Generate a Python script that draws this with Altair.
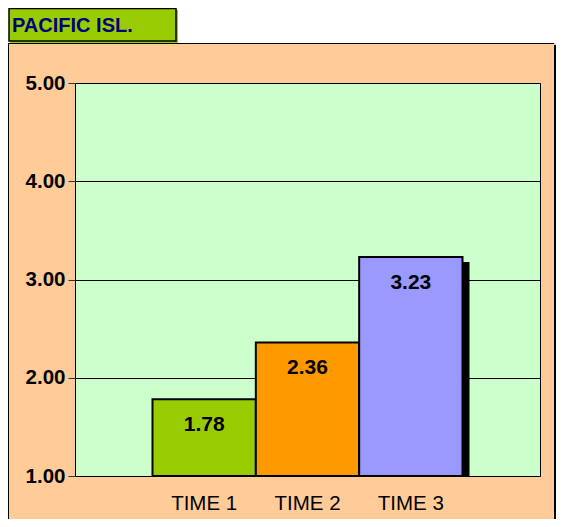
import altair as alt
import pandas as pd

categories = ["TIME 1", "TIME 2", "TIME 3"]
values = [1.78, 2.36, 3.23]
colors = ["#99CC00", "#FF9900", "#9999FF"]
y_ticks = [1, 2, 3, 4, 5]
title_text = "PACIFIC ISL."

df = pd.DataFrame({"cat": categories, "val": values, "col": colors})
one = alt.Data(values=[{"k": 1}])

W, H = 465, 393
FONT = "Arial, Liberation Sans, sans-serif"

x_enc = alt.X("cat:N", sort=categories,
              scale=alt.Scale(paddingInner=0, paddingOuter=0.75),
              axis=alt.Axis(title=None, labelAngle=0, ticks=False, domain=False,
                            labelFontSize=20.5, labelFont=FONT, labelColor="black",
                            labelPadding=17))
y_enc = alt.Y("val:Q", scale=alt.Scale(domain=[1, 5], nice=False, zero=False),
              axis=alt.Axis(title=None, values=y_ticks, format=".2f", grid=True,
                            gridColor="black", gridWidth=1, gridOpacity=1,
                            domain=False, tickColor="#333", tickSize=7,
                            labelFontSize=20.5, labelFont=FONT, labelFontWeight="bold",
                            labelColor="black", labelPadding=3))

# decorations (outside the plot area)
white_top = alt.Chart(one).mark_rect(color="white").encode(
    x=alt.value(-70), x2=alt.value(500), y=alt.value(-80), y2=alt.value(-40))
top_line = alt.Chart(one).mark_rule(color="black", strokeWidth=1).encode(
    x=alt.value(-67), x2=alt.value(479), y=alt.value(-39.5))
left_line = alt.Chart(one).mark_rule(color="black", strokeWidth=1).encode(
    x=alt.value(-66.5), y=alt.value(-40), y2=alt.value(450))
right_line = alt.Chart(one).mark_rule(color="black", strokeWidth=2).encode(
    x=alt.value(480), y=alt.value(-38), y2=alt.value(450))
white_right = alt.Chart(one).mark_rect(color="white").encode(
    x=alt.value(481), x2=alt.value(500), y=alt.value(-80), y2=alt.value(450))
title_shadow = alt.Chart(one).mark_rect(color="#99CC00").encode(
    x=alt.value(-65), x2=alt.value(103), y=alt.value(-73), y2=alt.value(-40))
title_box = alt.Chart(one).mark_rect(fill="#99CC00", stroke="black", strokeWidth=1.5).encode(
    x=alt.value(-66), x2=alt.value(101), y=alt.value(-74.5), y2=alt.value(-42))
title_lbl = alt.Chart(one).mark_text(
    text=title_text, align="left", baseline="alphabetic", font=FONT,
    fontSize=20, fontWeight="bold", color="#000080").encode(
    x=alt.value(-63), y=alt.value(-51))

base = alt.Chart(df)
shadow = base.mark_bar(color="black", xOffset=7, yOffset=5, clip=True).encode(
    x=x_enc, y=y_enc, y2=alt.datum(1))
bars = base.mark_bar(stroke="black", strokeWidth=2).encode(
    x=x_enc, y=y_enc, y2=alt.datum(1),
    color=alt.Color("col:N", scale=None))
labels = base.mark_text(dy=26, baseline="middle", font=FONT, fontSize=21,
                        fontWeight="bold", color="black").encode(
    x=x_enc, y=y_enc, text=alt.Text("val:Q", format=".2f"))

chart = alt.layer(
    white_top, top_line, left_line, right_line, white_right,
    title_shadow, title_box, title_lbl,
    shadow, bars, labels
).properties(
    width=W, height=H, background="#FFCC99",
    autosize=alt.AutoSizeParams(type="none"),
    padding={"left": 67, "top": 75, "right": 17, "bottom": 43}
).configure_view(fill="#CCFFCC", stroke="black", strokeWidth=1)

chart.save("out.html", embed_options={"renderer": "svg", "actions": False})
